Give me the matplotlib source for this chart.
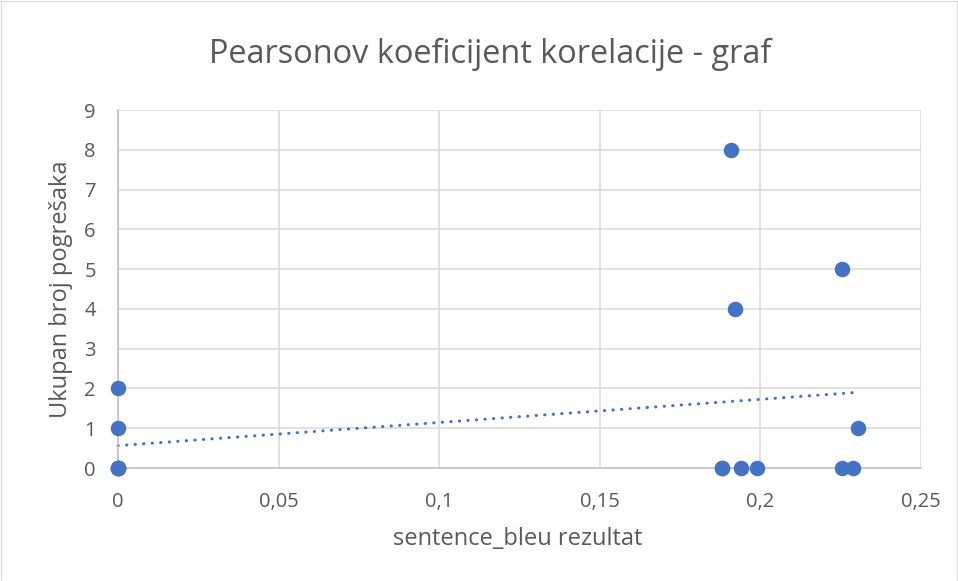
import numpy as np
import matplotlib
matplotlib.use("Agg")
import matplotlib.pyplot as plt
from matplotlib.patches import Rectangle

plt.rcParams['font.family'] = ['Open Sans', 'DejaVu Sans']

# data
bleu = [0, 0, 0, 0, 0, 0,
        0.188, 0.188, 0.194, 0.199, 0.2253, 0.2287,
        0.1908, 0.1921, 0.2253, 0.2303]
errors = [0, 0, 0, 0, 1, 2,
          0, 0, 0, 0, 0, 0,
          8, 4, 5, 1]
x_ticks = [0, 0.05, 0.1, 0.15, 0.2, 0.25]
x_tick_labels = ["0", "0,05", "0,1", "0,15", "0,2", "0,25"]
y_ticks = list(range(0, 10))

title = "Pearsonov koeficijent korelacije - graf"
xlabel = "sentence_bleu rezultat"
ylabel = "Ukupan broj pogrešaka"

BLUE = "#4472C4"
TEXT = "#595959"
GRID = "#D9D9D9"

W, H = 958, 581
fig = plt.figure(figsize=(W / 100, H / 100), dpi=100)
fig.patches.append(Rectangle((0.5 / W, 0.5 / H), 1 - 1.5 / W, 1 - 1.5 / H,
                             transform=fig.transFigure, fill=False,
                             edgecolor=GRID, linewidth=0.8))

ax = fig.add_axes([118 / W, 1 - 468 / H, (921 - 118) / W, (468 - 110) / H])
ax.set_xlim(0, 0.25)
ax.set_ylim(0, 9)
ax.set_xticks(x_ticks)
ax.set_xticklabels(x_tick_labels)
ax.set_yticks(y_ticks)
ax.grid(True, color=GRID, linewidth=1.1)
ax.set_axisbelow(True)
for s in ['top', 'right']:
    ax.spines[s].set_visible(False)
for s in ['bottom', 'left']:
    ax.spines[s].set_color("#BFBFBF")
    ax.spines[s].set_linewidth(1.1)
ax.tick_params(length=0, labelsize=14.5, colors=TEXT)
ax.tick_params(axis='x', pad=17)
ax.tick_params(axis='y', pad=16)

# trendline (linear regression)
slope, intercept = np.polyfit(bleu, errors, 1)
xs = np.array([min(bleu), max(bleu)])
ax.plot(xs, slope * xs + intercept, color=BLUE, linewidth=2.2,
        linestyle=(0, (0.1, 2.7)), dash_capstyle='round', zorder=2,
        clip_on=False)

ax.scatter(bleu, errors, s=125, color=BLUE, zorder=3, clip_on=False,
           linewidths=0)

fig.text(518 / W, 1 - 545 / H, xlabel, ha='center', va='baseline',
         fontsize=17, color=TEXT)
fig.text(61 / W, 1 - 289 / H, ylabel, ha='center', va='center',
         rotation=90, fontsize=17, color=TEXT)
fig.text(490 / W, 1 - 63 / H, title, ha='center', va='baseline',
         fontsize=23.4, color=TEXT)

fig.savefig("out.png", dpi=100)
